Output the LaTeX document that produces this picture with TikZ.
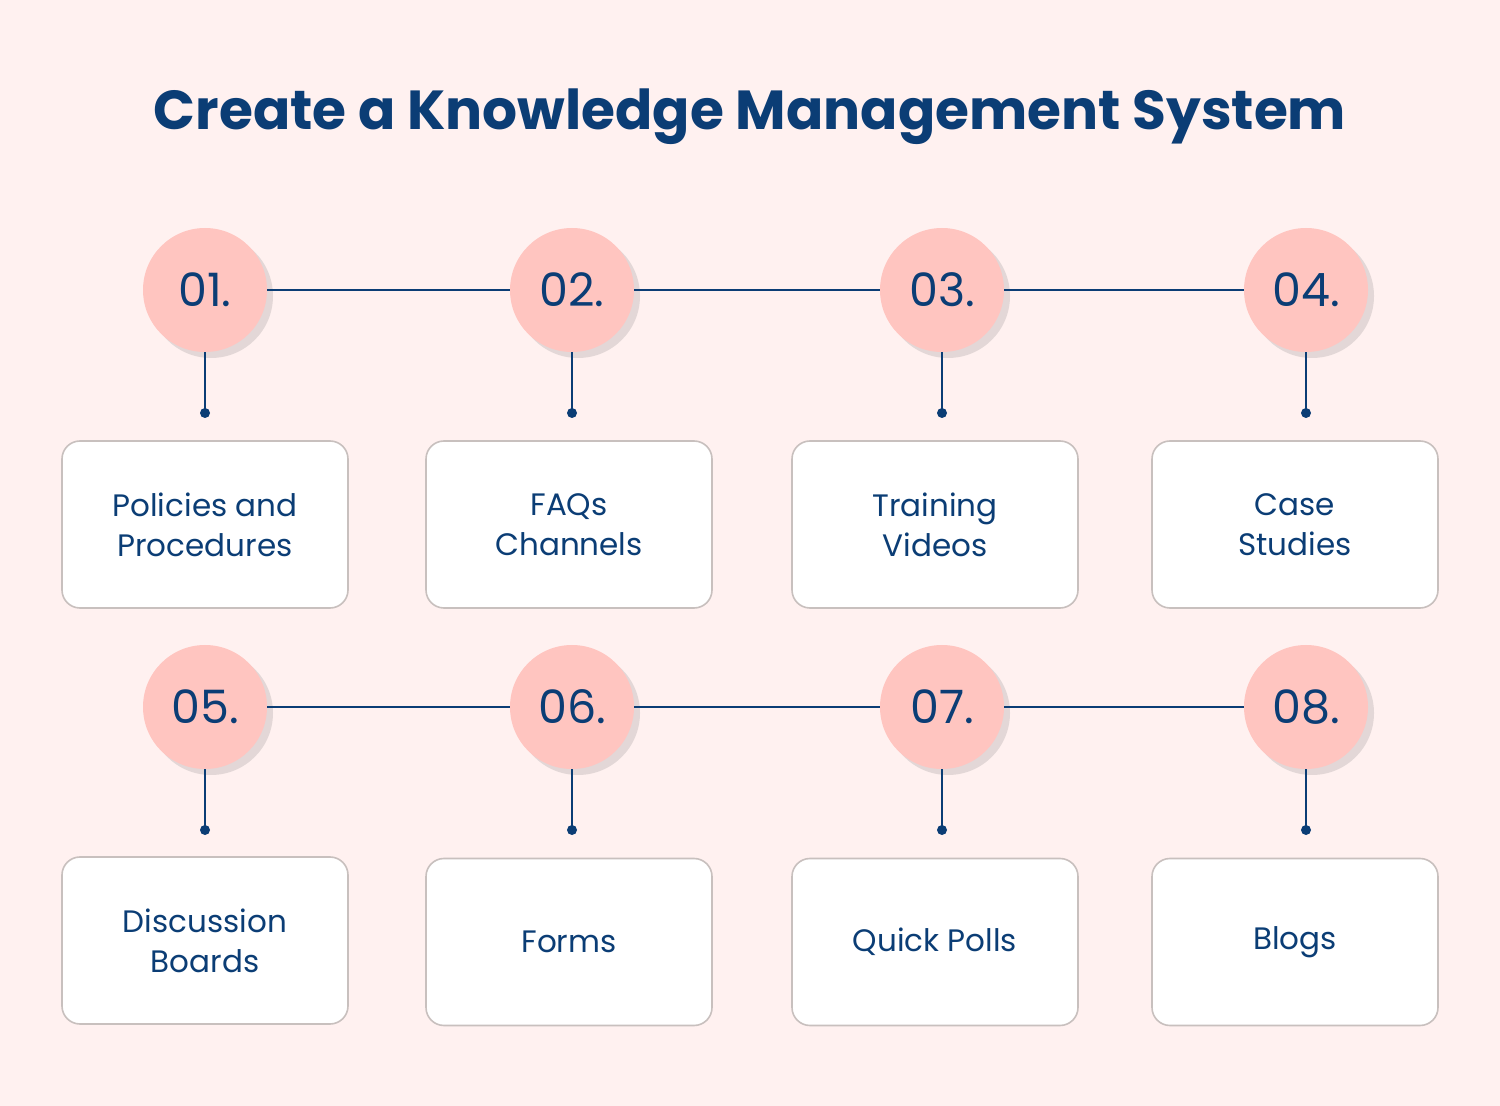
\documentclass[tikz,border=0pt]{standalone}
\usepackage{fontspec}
\setmainfont{Poppins}
\usetikzlibrary{shadows}
\definecolor{bg}{HTML}{FFF1F0}
\definecolor{circ}{HTML}{FFC5C0}
\definecolor{navy}{HTML}{0B3D75}
\definecolor{bord}{HTML}{C8C0BE}
\begin{document}
\begin{tikzpicture}[x=0.5pt,y=-0.5pt,
  num/.style={circle,fill=circ,minimum size=62pt,inner sep=0pt,text=navy,font=\fontsize{23}{27}\selectfont,
    drop shadow={shadow xshift=3pt,shadow yshift=-3pt,opacity=0.18,fill=black!60}},
  card/.style={draw=bord,line width=0.8pt,fill=white,rounded corners=9pt,minimum width=143pt,minimum height=83.5pt,
    text=navy,align=center,font=\fontsize{15.5}{20}\selectfont},
  link/.style={navy,line width=0.8pt},
  dot/.style={circle,fill=navy,inner sep=0pt,minimum size=5pt}]
\fill[bg] (0,0) rectangle (1500,1106);
\useasboundingbox (0,0) rectangle (1500,1106);
\node[text=navy,font=\bfseries\fontsize{27.5}{32}\selectfont] (title) at (750,117) {Create a Knowledge Management System};
\foreach \i/\x in {1/205,2/572,3/942,4/1306}{ \node[dot] (p\i) at (\x,413) {}; \node[dot] (q\i) at (\x,830) {}; }
\node[num] (c1) at (205,290) {01.};
\node[num] (c2) at (572,290) {02.};
\node[num] (c3) at (942,290) {03.};
\node[num] (c4) at (1306,290) {04.};
\node[num] (c5) at (205,707) {05.};
\node[num] (c6) at (572,707) {06.};
\node[num] (c7) at (942,707) {07.};
\node[num] (c8) at (1306,707) {08.};
\begin{scope}[on background layer/.code={}]
\end{scope}
\draw[link] (c1) -- (c2); \draw[link] (c2) -- (c3); \draw[link] (c3) -- (c4);
\draw[link] (c5) -- (c6); \draw[link] (c6) -- (c7); \draw[link] (c7) -- (c8);
\foreach \i in {1,2,3,4}{ \draw[link] (c\i.south) -- (p\i.center); }
\foreach \i/\j in {5/1,6/2,7/3,8/4}{ \draw[link] (c\i.south) -- (q\j.center); }
\node[card] (b1) at (205,524.5) {Policies and\\Procedures};
\node[card] (b2) at (569,524.5) {FAQs\\Channels};
\node[card] (b3) at (935,524.5) {Training\\Videos};
\node[card] (b4) at (1295,524.5) {Case\\Studies};
\node[card] (b5) at (205,940.5) {Discussion\\Boards};
\node[card] (b6) at (569,942) {Forms};
\node[card] (b7) at (935,942) {Quick Polls};
\node[card] (b8) at (1295,942) {Blogs};
\end{tikzpicture}
\end{document}
